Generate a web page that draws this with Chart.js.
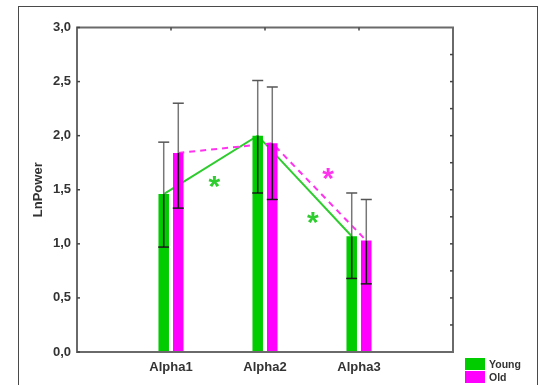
<!DOCTYPE html>
<html>
<head>
<meta charset="utf-8">
<script src="https://cdn.jsdelivr.net/npm/chart.js@4.4.1/dist/chart.umd.min.js"></script>
<style>
  body { margin: 0; background: #fff; }
  #wrap { position: relative; width: 540px; height: 385px; overflow: hidden; }
  #frame { position: absolute; left: 18px; top: 6px; width: 518px; height: 400px; border: 1.5px solid #4a4a4a; }
  #chart { position: absolute; left: 0; top: 0; }
  #legend { position: absolute; left: 465px; top: 358px; font: bold 10.5px "Liberation Sans", Arial, sans-serif; color: #333; }
  #legend div { height: 13px; line-height: 12px; white-space: nowrap; }
  #legend span { display: inline-block; width: 20px; height: 12px; vertical-align: top; margin-right: 4px; }
</style>
</head>
<body>
<div id="wrap">
  <div id="frame"></div>
  <canvas id="chart" width="540" height="385"></canvas>
  <div id="legend"></div>
</div>
<script>
// data
const categories = ['Alpha1', 'Alpha2', 'Alpha3']
const youngMean = [1.46, 2.00, 1.07]
const oldMean = [1.84, 1.93, 1.03]
const youngLow = [0.97, 1.47, 0.68]
const youngHigh = [1.94, 2.51, 1.47]
const oldLow = [1.33, 1.41, 0.63]
const oldHigh = [2.30, 2.45, 1.41]
const yTicks = [0, 0.5, 1.0, 1.5, 2.0, 2.5, 3.0]

// significance stars (x = category index, y = value)
const starX = [1.46, 2.51, 2.67]
const starY = [1.57, 1.24, 1.65]
const starGroup = [0, 0, 1]

const green = '#00cc00'
const magenta = '#ff00ff'
const font = '"Liberation Sans", Arial, sans-serif'

// empty slot at each end so the groups sit at 1/4, 2/4, 3/4 of the axis
const labels = ['', ...categories, '']
const pad = arr => [null, ...arr, null]

const groups = [
    {label: 'Young', mean: youngMean, low: youngLow, high: youngHigh, color: green, line: '#2ecc2e', dash: []},
    {label: 'Old', mean: oldMean, low: oldLow, high: oldHigh, color: magenta, line: '#ff33ee', dash: [6, 5]}
]

const extras = {
    id: 'extras',
    beforeDatasetsDraw(chart) {
        // connecting lines sit behind the bars
        const ctx = chart.ctx
        ctx.save()
        groups.forEach((g, i) => {
            const pts = chart.getDatasetMeta(i).data.filter((el, j) => g.mean[j - 1] != null)
            ctx.beginPath()
            pts.forEach((el, k) => k ? ctx.lineTo(el.x, el.y) : ctx.moveTo(el.x, el.y))
            ctx.strokeStyle = g.line
            ctx.lineWidth = 2
            ctx.setLineDash(g.dash)
            ctx.stroke()
        })
        ctx.restore()
    },
    afterDatasetsDraw(chart) {
        const ctx = chart.ctx
        const y = chart.scales.y
        const x = chart.scales.x
        ctx.save()
        // error bars
        groups.forEach((g, i) => {
            chart.getDatasetMeta(i).data.forEach((el, j) => {
                const k = j - 1
                if (g.mean[k] == null) return
                const hi = y.getPixelForValue(g.high[k])
                const lo = y.getPixelForValue(g.low[k])
                ctx.lineWidth = 1.5
                ctx.strokeStyle = '#777'
                ctx.beginPath(); ctx.moveTo(el.x, hi); ctx.lineTo(el.x, el.y); ctx.stroke()
                ctx.strokeStyle = '#555'
                ctx.beginPath(); ctx.moveTo(el.x - 5.5, hi); ctx.lineTo(el.x + 5.5, hi); ctx.stroke()
                ctx.strokeStyle = '#1a1a1a'
                ctx.beginPath(); ctx.moveTo(el.x, el.y); ctx.lineTo(el.x, lo); ctx.stroke()
                ctx.beginPath(); ctx.moveTo(el.x - 5.5, lo); ctx.lineTo(el.x + 5.5, lo); ctx.stroke()
            })
        })
        // stars
        ctx.font = 'bold 30px ' + font
        ctx.textAlign = 'center'
        ctx.textBaseline = 'alphabetic'
        starX.forEach((sx, i) => {
            const m = ctx.measureText('*')
            const cx = x.getPixelForValue(sx)
            const cy = y.getPixelForValue(starY[i])
            ctx.fillStyle = groups[starGroup[i]].line
            ctx.fillText('*', cx, cy + (m.actualBoundingBoxAscent - m.actualBoundingBoxDescent) / 2)
        })
        ctx.restore()
    },
    afterDraw(chart) {
        const ctx = chart.ctx
        const a = chart.chartArea
        const y = chart.scales.y
        const x = chart.scales.x
        ctx.save()
        ctx.strokeStyle = '#6a6a6a'
        ctx.lineWidth = 2
        ctx.strokeRect(a.left, a.top, a.right - a.left, a.bottom - a.top)
        ctx.strokeStyle = '#444'
        ctx.lineWidth = 1.5
        yTicks.forEach(v => {
            const py = y.getPixelForValue(v)
            ctx.beginPath(); ctx.moveTo(a.left, py); ctx.lineTo(a.left + 3, py); ctx.stroke()
        })
        for (let v = 0.25; v < 3; v += 0.25) {
            const py = y.getPixelForValue(v)
            ctx.beginPath(); ctx.moveTo(a.right, py); ctx.lineTo(a.right - 3, py); ctx.stroke()
        }
        categories.forEach((c, i) => {
            const px = x.getPixelForValue(i + 1)
            ctx.beginPath(); ctx.moveTo(px, a.top); ctx.lineTo(px, a.top + 3); ctx.stroke()
        })
        ctx.restore()
    }
}

const chart = new Chart(document.getElementById('chart'), {
    type: 'bar',
    data: {
        labels: labels,
        datasets: groups.map(g => ({
            label: g.label,
            data: pad(g.mean),
            backgroundColor: g.color,
            borderWidth: 0,
            categoryPercentage: 0.31,
            barPercentage: 0.72
        }))
    },
    options: {
        responsive: false,
        animation: false,
        devicePixelRatio: 1,
        layout: {padding: {top: 27.5, right: 87, left: 0, bottom: 0}},
        plugins: {legend: {display: false}, tooltip: {enabled: false}},
        scales: {
            x: {
                offset: false,
                grid: {display: false, drawTicks: false},
                border: {display: false},
                ticks: {
                    autoSkip: false, maxRotation: 0, padding: 8,
                    color: '#333', font: {family: font, size: 13, weight: 'bold'}
                },
                afterFit: s => { s.height = 33 }
            },
            y: {
                min: 0, max: 3,
                grid: {display: false, drawTicks: false},
                border: {display: false},
                afterBuildTicks: s => { s.ticks = yTicks.map(v => ({value: v})) },
                ticks: {
                    padding: 6,
                    color: '#333', font: {family: font, size: 13, weight: 'bold'},
                    callback: v => v.toFixed(1).replace('.', ',')
                },
                title: {
                    display: true, text: 'LnPower', color: '#333',
                    font: {family: font, size: 13, weight: 'bold'},
                    padding: {top: 31, bottom: 0}
                },
                afterFit: s => { s.width = 77 }
            }
        }
    },
    plugins: [extras]
})

// legend
const legend = document.getElementById('legend')
groups.forEach(g => {
    const row = document.createElement('div')
    row.innerHTML = `<span style="background:${g.color}"></span>${g.label}`
    legend.appendChild(row)
})
</script>
</body>
</html>
